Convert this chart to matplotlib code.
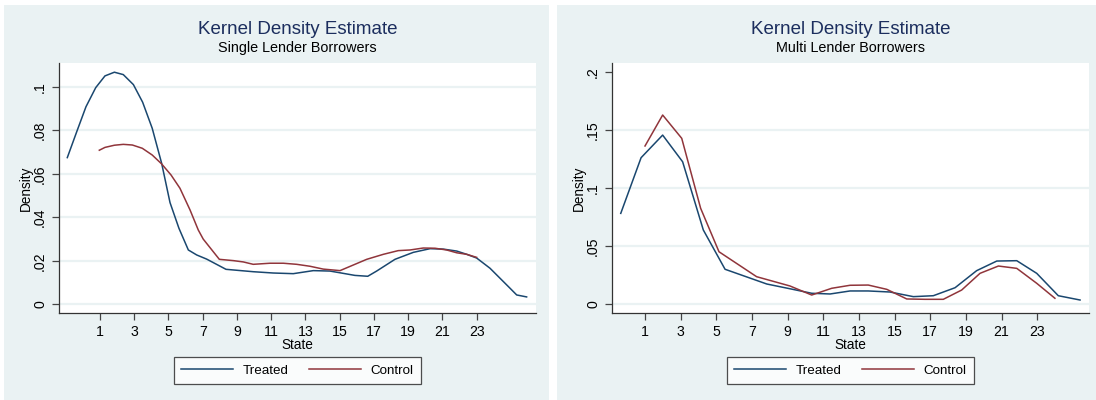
import matplotlib.pyplot as plt
from matplotlib.patches import Rectangle

plt.rcParams['font.family'] = ['Liberation Sans', 'DejaVu Sans']

# Single lender borrowers
single_treated_x = [-0.91, -0.36, 0.18, 0.75, 1.29, 1.84, 2.36, 2.95, 3.49, 4.05, 4.60, 5.09,
                    5.61, 6.16, 6.65, 7.23, 8.36, 9.95, 11.12, 12.29, 13.46, 14.43, 15.02,
                    15.89, 16.64, 17.16, 18.23, 19.30, 20.28, 21.05, 21.84, 22.42, 23.00,
                    23.78, 24.95, 25.34, 25.92]
single_treated_y = [0.0675, 0.0794, 0.0909, 0.0997, 0.1051, 0.1068, 0.1057, 0.1011, 0.0930,
                    0.0810, 0.0649, 0.0468, 0.0350, 0.0250, 0.0227, 0.0208, 0.0161, 0.0150,
                    0.0144, 0.0141, 0.0155, 0.0153, 0.0145, 0.0133, 0.0129, 0.0153, 0.0207,
                    0.0239, 0.0256, 0.0254, 0.0245, 0.0230, 0.0213, 0.0166, 0.0074, 0.0043,
                    0.0034]
single_control_x = [0.96, 1.29, 1.84, 2.36, 2.89, 3.47, 4.05, 4.60, 5.15, 5.67, 6.26, 6.74,
                    7.03, 7.97, 8.79, 9.37, 9.95, 10.93, 11.71, 12.49, 13.27, 14.04, 15.02,
                    15.80, 16.58, 17.55, 18.42, 19.11, 19.88, 20.57, 21.25, 21.84, 22.42, 23.00]
single_control_y = [0.0709, 0.0722, 0.0732, 0.0736, 0.0733, 0.0718, 0.0687, 0.0646, 0.0595,
                    0.0534, 0.0434, 0.0342, 0.0300, 0.0207, 0.0201, 0.0195, 0.0184, 0.0189,
                    0.0189, 0.0184, 0.0175, 0.0162, 0.0155, 0.0181, 0.0207, 0.0230, 0.0247,
                    0.0250, 0.0259, 0.0258, 0.0250, 0.0237, 0.0230, 0.0216]

# Multi lender borrowers
multi_treated_x = [-0.36, 0.78, 1.99, 3.11, 4.27, 5.49, 7.83, 9.13, 10.35, 11.38, 12.50,
                   13.52, 14.74, 16.05, 17.17, 18.39, 19.60, 20.73, 21.85, 22.97, 24.18, 25.40]
multi_treated_y = [0.0784, 0.1264, 0.1459, 0.1229, 0.0641, 0.0302, 0.0175, 0.0134, 0.0095,
                   0.0089, 0.0115, 0.0115, 0.0106, 0.0066, 0.0074, 0.0143, 0.0290, 0.0373,
                   0.0376, 0.0267, 0.0074, 0.0037]
multi_control_x = [1.00, 1.99, 3.06, 4.12, 5.15, 7.26, 9.13, 10.35, 11.47, 12.50, 13.52,
                   14.56, 15.68, 16.70, 17.73, 18.76, 19.79, 20.82, 21.85, 22.97, 23.99]
multi_control_y = [0.1365, 0.1632, 0.1431, 0.0828, 0.0453, 0.0238, 0.0158, 0.0080, 0.0138,
                   0.0164, 0.0166, 0.0129, 0.0046, 0.0043, 0.0043, 0.0123, 0.0267, 0.0330,
                   0.0310, 0.0181, 0.0052]

x_ticks = [1, 3, 5, 7, 9, 11, 13, 15, 17, 19, 21, 23]
single_yticks = [0, 0.02, 0.04, 0.06, 0.08, 0.1]
single_ylabels = ['0', '.02', '.04', '.06', '.08', '.1']
multi_yticks = [0, 0.05, 0.1, 0.15, 0.2]
multi_ylabels = ['0', '.05', '.1', '.15', '.2']

navy = '#1a476f'
maroon = '#90353b'
bg = '#eaf2f3'

W, H = 1096, 400
fig = plt.figure(figsize=(W / 100, H / 100), dpi=100)
fig.patch.set_facecolor('white')

panels = [
    dict(off=0, sub='Single Lender Borrowers', tx=single_treated_x, ty=single_treated_y,
         cx=single_control_x, cy=single_control_y, xlim=(-1.395, 26.45), ylim=(-0.004, 0.1109),
         yt=single_yticks, yl=single_ylabels),
    dict(off=553, sub='Multi Lender Borrowers', tx=multi_treated_x, ty=multi_treated_y,
         cx=multi_control_x, cy=multi_control_y, xlim=(-0.851, 25.885), ylim=(-0.0075, 0.2078),
         yt=multi_yticks, yl=multi_ylabels),
]

for p in panels:
    off = p['off']
    # panel background, behind the axes
    fig.add_artist(Rectangle(((4 + off) / W, 0), 545 / W, (400 - 5) / H,
                             transform=fig.transFigure, facecolor=bg, edgecolor='none', zorder=-10))
    ax = fig.add_axes([(59 + off) / W, (400 - 313) / H, 476.7 / W, (313 - 63.3) / H])
    ax.set_zorder(1)
    ax.set_facecolor('white')
    ax.plot(p['tx'], p['ty'], color=navy, linewidth=1.1, label='Treated')
    ax.plot(p['cx'], p['cy'], color=maroon, linewidth=1.1, label='Control')
    ax.set_xlim(*p['xlim'])
    ax.set_ylim(*p['ylim'])
    ax.set_xticks(x_ticks)
    ax.set_yticks(p['yt'])
    ax.set_yticklabels(p['yl'], rotation=90, va='center')
    ax.tick_params(axis='both', labelsize=10.2, length=5, width=0.9, color='#444444')
    ax.tick_params(axis='x', pad=4)
    ax.tick_params(axis='y', pad=3.5)
    ax.yaxis.grid(True, color=bg, linewidth=1.6)
    if off > 0:
        ax.yaxis.get_gridlines()[-1].set_visible(False)
    ax.set_axisbelow(True)
    for s in ['top', 'right']:
        ax.spines[s].set_visible(False)
    for s in ['left', 'bottom']:
        ax.spines[s].set_color('#333333')
        ax.spines[s].set_linewidth(0.9)
    ax.set_xlabel('State', fontsize=9.8, labelpad=-1)
    ax.set_ylabel('Density', fontsize=9.8, labelpad=0.2)
    fig.text((59 + 535.7) / 2 / W + off / W, 1 - 30 / H, 'Kernel Density Estimate',
             ha='center', va='center', fontsize=13.5, color='#1c2e5e')
    fig.text((59 + 535.7) / 2 / W + off / W, 1 - 48 / H, p['sub'],
             ha='center', va='center', fontsize=10.4, color='black')
    leg = ax.legend(loc='center', bbox_to_anchor=(0.5, -0.231), ncol=2, frameon=True,
                    fontsize=9.6, handlelength=3.9, columnspacing=1.6, handletextpad=0.7,
                    borderpad=0.55, fancybox=False)
    leg.get_frame().set_edgecolor('#222222')
    leg.get_frame().set_linewidth(0.9)

fig.savefig('out.png', dpi=100, facecolor='white')
